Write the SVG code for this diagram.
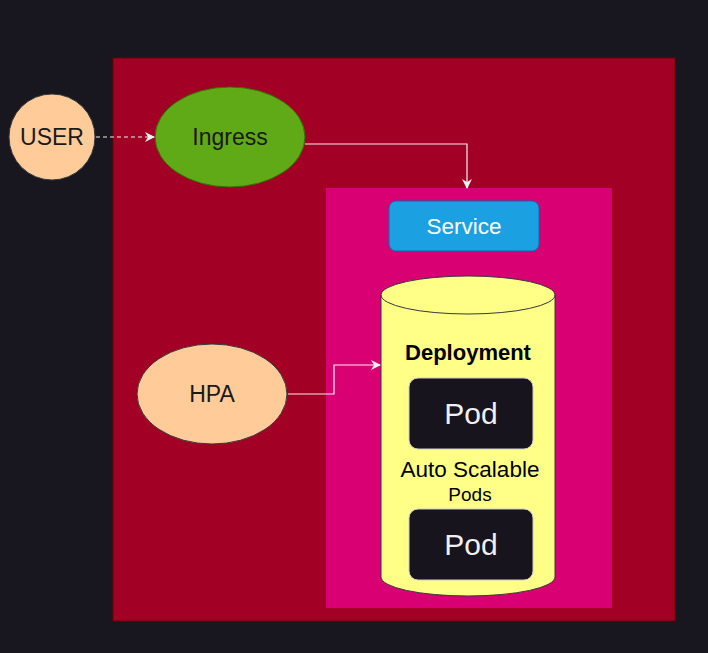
<svg xmlns="http://www.w3.org/2000/svg" width="708" height="653" viewBox="0 0 708 653">
<defs>
<style>
text{font-family:"Liberation Sans",Arial,sans-serif;text-anchor:middle}
.lbl{font-size:23px;fill:#1a1a1a}
.conn{fill:none;stroke:#f0f0f0;stroke-width:1.2}
.pod{fill:#18141d;stroke:#cccccc;stroke-width:1}
.podt{font-size:30px;fill:#f0f0f0}
</style>
<marker id="arr" viewBox="0 0 10 10" refX="9" refY="5" markerWidth="10" markerHeight="10" markerUnits="userSpaceOnUse" orient="auto">
<path d="M0,0 L10,5 L0,10 L3,5 Z" fill="#f0f0f0"/>
</marker>
</defs>
<rect width="708" height="653" fill="#18161f"/>
<g id="cluster">
<rect x="113" y="58" width="562" height="563" fill="#a20025" stroke="#6f0000" stroke-width="1"/>
</g>
<g id="namespace">
<rect x="326" y="188" width="286" height="420" fill="#d80073"/>
</g>
<g id="user">
<circle cx="52" cy="137" r="43" fill="#ffcc99" stroke="#36393d" stroke-width="1"/>
<text x="52" y="145" class="lbl">USER</text>
</g>
<g id="ingress">
<ellipse cx="230" cy="137" rx="75" ry="50" fill="#60a917" stroke="#2d7600" stroke-width="1"/>
<text x="230" y="145" class="lbl">Ingress</text>
</g>
<g id="service">
<rect x="389" y="201" width="150" height="50" rx="7" fill="#1ba1e2" stroke="#006eaf" stroke-width="1"/>
<text x="464" y="234" style="font-size:22.5px;fill:#ffffff">Service</text>
</g>
<g id="hpa">
<ellipse cx="212" cy="394" rx="75" ry="50" fill="#ffcc99" stroke="#36393d" stroke-width="1"/>
<text x="212" y="402" class="lbl">HPA</text>
</g>
<g id="deployment">
<path d="M381,295 A87,19 0 0 1 555,295 L555,577 A87,19 0 0 1 381,577 Z" fill="#ffff88" stroke="#36393d" stroke-width="1"/>
<path d="M381,295 A87,19 0 0 0 555,295" fill="none" stroke="#36393d" stroke-width="1"/>
<text x="468" y="360" style="font-size:22px;font-weight:bold;fill:#000000">Deployment</text>
<text x="470" y="477" style="font-size:22.5px;fill:#000000">Auto Scalable</text>
<text x="470" y="501" style="font-size:19px;fill:#000000">Pods</text>
</g>
<g id="pod1">
<rect x="409" y="378" width="124" height="71" rx="9" class="pod"/>
<text x="471" y="424" class="podt">Pod</text>
</g>
<g id="pod2">
<rect x="409" y="509" width="124" height="71" rx="9" class="pod"/>
<text x="471" y="555" class="podt">Pod</text>
</g>
<g id="connectors">
<path d="M96,137 L154,137" class="conn" stroke-dasharray="4 3" marker-end="url(#arr)"/>
<path d="M305,144 L467,144 L467,188" class="conn" marker-end="url(#arr)"/>
<path d="M288,394 L334,394 L334,365 L380,365" class="conn" marker-end="url(#arr)"/>
</g>
</svg>
